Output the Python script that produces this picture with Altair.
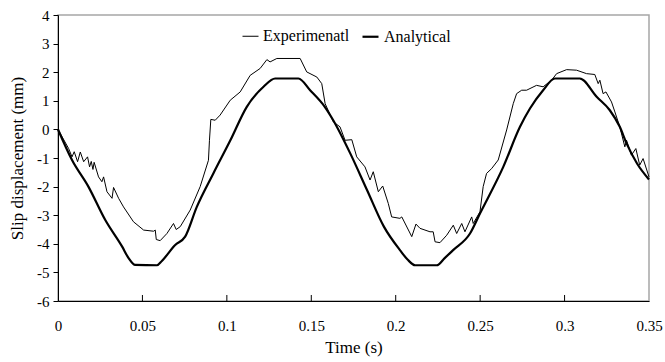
import altair as alt
import pandas as pd

# Experimental (thin) series
exp_t = [0, 0.0063, 0.0083, 0.0096, 0.0116, 0.0132, 0.0152, 0.0175, 0.0187, 0.0197, 0.0207, 0.0214,
         0.024, 0.026, 0.027, 0.029, 0.032, 0.0329, 0.0359, 0.0388, 0.0447, 0.0507, 0.0566, 0.0576,
         0.0582, 0.0605, 0.0645, 0.0684, 0.07, 0.0724, 0.0783, 0.0842, 0.0891, 0.0897, 0.0905, 0.0931,
         0.096, 0.102, 0.1079, 0.1138, 0.1197, 0.1237, 0.1256, 0.1296, 0.1434, 0.1473, 0.1533, 0.1562,
         0.1582, 0.1631, 0.167, 0.17, 0.174, 0.1769, 0.1818, 0.1848, 0.1867, 0.1897, 0.1923, 0.1956,
         0.1976, 0.2025, 0.2036, 0.2095, 0.212, 0.2144, 0.2203, 0.2222, 0.2233, 0.2262, 0.2302, 0.2341,
         0.2361, 0.2391, 0.241, 0.245, 0.2459, 0.2499, 0.2518, 0.2538, 0.2568, 0.2607, 0.2657, 0.2696,
         0.2716, 0.2746, 0.2775, 0.2834, 0.2873, 0.2923, 0.2953, 0.3012, 0.3071, 0.313, 0.3179, 0.3199,
         0.3209, 0.3228, 0.3245, 0.3278, 0.3298, 0.3327, 0.3357, 0.3367, 0.3396, 0.3422, 0.3445, 0.3465,
         0.35]
exp_y = [0, -0.67, -0.96, -0.78, -1.13, -0.79, -1.13, -0.96, -1.31, -1.12, -1.4, -1.15,
         -1.66, -1.83, -1.66, -2.18, -2.41, -2.03, -2.41, -2.71, -3.23, -3.52, -3.56, -3.52,
         -3.85, -3.89, -3.64, -3.29, -3.5, -3.4, -2.82, -2.0, -1.08, -0.38, 0.35, 0.32,
         0.5, 1.02, 1.31, 1.89, 2.13, 2.44, 2.36, 2.48, 2.48, 2.01, 1.83, 1.6,
         0.9, 0.26, 0.09, -0.38, -0.36, -0.96, -1.31, -1.77, -1.48, -2.18, -1.98, -2.59,
         -3.06, -3.11, -3.06, -3.75, -3.31, -3.46, -3.58, -3.58, -3.93, -3.96, -3.7, -3.35,
         -3.64, -3.29, -3.58, -3.06, -3.29, -2.88, -2.0, -1.54, -1.37, -1.07, -0.02, 0.9,
         1.25, 1.37, 1.37, 1.54, 1.49, 1.72, 1.95, 2.09, 2.07, 1.95, 1.92, 1.6,
         1.72, 1.25, 1.31, 0.96, 0.61, 0.09, -0.61, -0.38, -0.9, -0.67, -1.25, -1.02,
         -1.66]

# Analytical (thick) series
ana_t = [0, 0.0083, 0.018, 0.028, 0.038, 0.0418, 0.0457, 0.0586, 0.0615, 0.0694, 0.0753, 0.0822,
         0.092, 0.102, 0.1118, 0.1217, 0.1286, 0.1424, 0.1493, 0.158, 0.163, 0.173, 0.183, 0.193,
         0.2025, 0.207, 0.2115, 0.2243, 0.229, 0.234, 0.244, 0.2499, 0.2637, 0.2736, 0.2795, 0.2873,
         0.2943, 0.309, 0.319, 0.3268, 0.3327, 0.3367, 0.343, 0.35]
ana_y = [0, -1.07, -2.0, -3.17, -4.1, -4.5, -4.74, -4.75, -4.6, -4.04, -3.75, -2.71,
         -1.54, -0.39, 0.79, 1.49, 1.78, 1.78, 1.37, 0.79, 0.32, -0.83, -2.12, -3.4,
         -4.22, -4.55, -4.75, -4.75, -4.5, -4.22, -3.64, -2.94, -1.31, 0.09, 0.73, 1.37,
         1.78, 1.78, 1.14, 0.67, 0.09, -0.49, -1.2, -1.75]

series_names = ["Experimenatl", "Analytical"]
x_ticks = [0, 0.05, 0.1, 0.15, 0.2, 0.25, 0.3, 0.35]
inner_ticks = [0.05, 0.1, 0.15, 0.2, 0.25, 0.3]
y_ticks = [-6, -5, -4, -3, -2, -1, 0, 1, 2, 3, 4]

exp_df = pd.DataFrame({"t": exp_t, "y": exp_y, "series": series_names[0]})
ana_df = pd.DataFrame({"t": ana_t, "y": ana_y, "series": series_names[1]})
ticks_df = pd.DataFrame({"t": inner_ticks, "y": -6.0, "y1": -5.79})

FONT = "Liberation Serif"

xscale = alt.Scale(domain=[0, 0.35], nice=False, zero=False)
yscale = alt.Scale(domain=[-6, 4], nice=False, zero=False)
wscale = alt.Scale(domain=series_names, range=[1, 2.2])

x_axis = alt.Axis(values=x_ticks, labelExpr="'' + datum.value", tickSize=0,
                  labelPadding=17, titlePadding=6, domainColor="black", grid=False,
                  labelFlush=False, labelOverlap=False, labelFont=FONT, titleFont=FONT)
y_axis = alt.Axis(values=y_ticks, labelExpr="'' + datum.value", tickSize=5,
                  labelPadding=4, titlePadding=10, domainColor="black",
                  tickColor="black", grid=False, labelFlush=False, labelOverlap=False,
                  labelFont=FONT, titleFont=FONT)

x_enc = alt.X("t:Q", scale=xscale, title="Time (s)", axis=x_axis)
y_enc = alt.Y("y:Q", scale=yscale, title="Slip displacement (mm)", axis=y_axis)
w_enc = alt.StrokeWidth("series:O", scale=wscale,
                        legend=alt.Legend(title=None, orient="none", legendX=184, legendY=12,
                                          direction="horizontal", symbolType="stroke",
                                          symbolSize=256, symbolStrokeColor="black",
                                          labelFont=FONT, labelFontSize=16, labelColor="black",
                                          labelOffset=4, columnPadding=8, padding=0))

exp_line = alt.Chart(exp_df).mark_line(color="black").encode(x=x_enc, y=y_enc, strokeWidth=w_enc)
ana_line = alt.Chart(ana_df).mark_line(color="black", interpolate="monotone").encode(
    x=x_enc, y=y_enc, strokeWidth=w_enc)

tick_rules = alt.Chart(ticks_df).mark_rule(color="black", strokeWidth=1).encode(
    x=x_enc,
    y=y_enc,
    y2=alt.Y2("y1:Q"),
)

chart = alt.layer(exp_line, ana_line, tick_rules).properties(
    width=591, height=286,
    autosize=alt.AutoSizeParams(type="none"),
    padding={"left": 58, "top": 15, "right": 16, "bottom": 61},
    background="white",
).configure_view(
    stroke="#a6a6a6", strokeWidth=1.5
).configure_axis(
    labelFont=FONT, labelFontSize=15, labelColor="black",
    titleFont=FONT, titleFontSize=17, titleFontWeight="normal", titleColor="black",
    domainWidth=1,
)

chart.save("out.html", embed_options={"renderer": "svg", "actions": False})
